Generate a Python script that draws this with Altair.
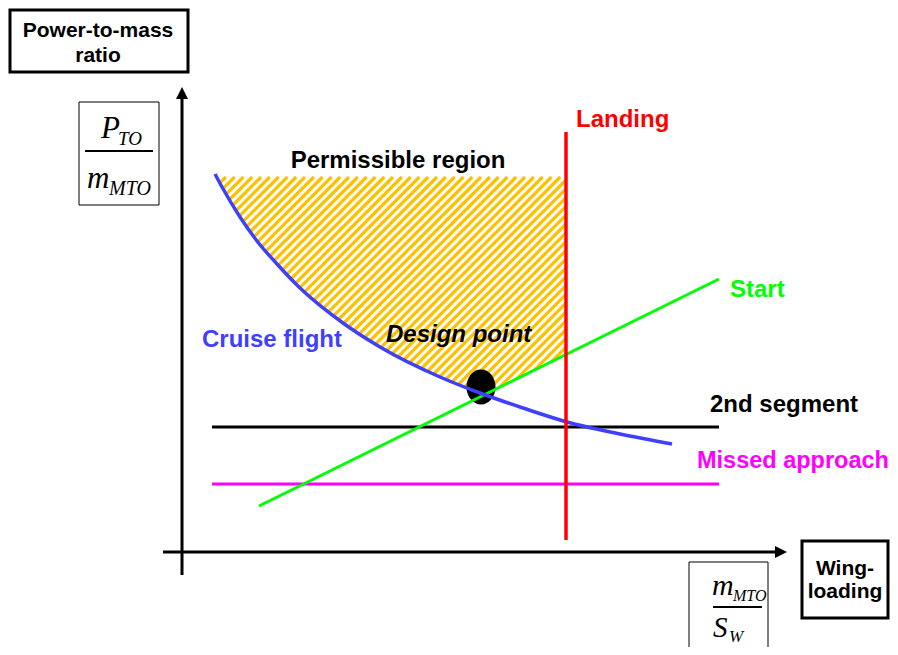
import altair as alt
import numpy as np
import pandas as pd

# ---------------- data (diagram units: origin at the axes crossing, y up) ----------------
cruise_x = [33, 40, 58, 75, 95, 118, 161, 198, 258, 298, 341, 385, 438, 490]
cruise_y = [378, 365, 335, 311, 288, 264, 229, 205, 175, 159, 144, 130, 118, 108]

start_x = [77, 537]
start_y = [46, 273]

segment2_x = [30, 537]
segment2_y = [125, 125]

missed_x = [30, 537]
missed_y = [68, 68]

landing_x = [384, 384]
landing_y = [12, 420]

design_x = [299]
design_y = [165]

region_x = [34, 384]      # permissible region (hatched) bounding box
region_y = [152, 375]

label_text = ["Landing", "Permissible region", "Start", "Cruise flight", "Design point",
              "2nd segment", "Missed approach"]
label_x = [394, 216, 548, 20, 204, 528, 515]
label_y = [425, 384, 255, 205, 210, 140, 84]

box_text_a = ["Power-to-mass", "ratio"]
box_text_b = ["Wing-", "loading"]

# ---------------- styling ----------------
SANS = "Liberation Sans, Arial, Helvetica, sans-serif"
SERIF = "Liberation Serif, Times New Roman, serif"
BLUE = "#3f3fff"
GREEN = "#00ff00"
RED = "#ff0000"
MAGENTA = "#ff00ff"
ORANGE = "#ffc000"

xs = alt.Scale(domain=[-174, 708], nice=False, zero=False)
ys = alt.Scale(domain=[-95, 544], nice=False, zero=False)


def X(f="x"):
    return alt.X(f"{f}:Q", scale=xs, axis=None)


def Y(f="y"):
    return alt.Y(f"{f}:Q", scale=ys, axis=None)


def seg_chart(df, color, width):
    return alt.Chart(df).mark_rule(color=color, strokeWidth=width).encode(
        x=X("x"), x2="x2:Q", y=Y("y"), y2="y2:Q")


def line_chart(xv, yv, color, width, interp="linear"):
    df = pd.DataFrame({"x": xv, "y": yv})
    return alt.Chart(df).mark_line(color=color, strokeWidth=width, interpolate=interp).encode(
        x=X("x"), y=Y("y"), order="x:Q")


def text_chart(xv, yv, texts, color="black", size=24, align="left", weight="bold",
               style="normal", font=SANS):
    df = pd.DataFrame({"x": xv, "y": yv, "t": texts})
    return alt.Chart(df).mark_text(
        align=align, baseline="alphabetic", font=font, fontSize=size,
        fontWeight=weight, fontStyle=style, color=color
    ).encode(x=X("x"), y=Y("y"), text="t:N")


def rect_chart(x1, x2, y1, y2, width):
    df = pd.DataFrame({"x": [x1], "x2": [x2], "y": [y1], "y2": [y2]})
    return alt.Chart(df).mark_rect(fill="white", stroke="black", strokeWidth=width).encode(
        x=X("x"), x2="x2:Q", y=Y("y"), y2="y2:Q")


# ---------------- hatch pattern of the permissible region ----------------
x0, x1 = region_x
y0, y1 = region_y
rows = []
for c in np.arange(y0 - x1, y1 - x0, 8.8):
    xa = max(x0, y0 - c)
    xb = min(x1, y1 - c)
    if xb > xa:
        rows.append({"x": xa, "y": xa + c, "x2": xb, "y2": xb + c})
hatch = seg_chart(pd.DataFrame(rows), ORANGE, 3.2)

# white masks below the cruise curve and below the start line
mask_base = 140
mask1 = alt.Chart(pd.DataFrame({"x": cruise_x, "y": cruise_y, "b": mask_base})).mark_area(
    color="white", interpolate="monotone", opacity=1).encode(x=X("x"), y=Y("y"), y2="b:Q")
mask2 = alt.Chart(pd.DataFrame({"x": start_x, "y": start_y, "b": mask_base})).mark_area(
    color="white", opacity=1).encode(x=X("x"), y=Y("y"), y2="b:Q")

# ---------------- constraint lines ----------------
design = alt.Chart(pd.DataFrame({"x": design_x, "y": design_y})).mark_point(
    shape="M0,-1A0.83,1 0 1,1 0,1A0.83,1 0 1,1 0,-1Z", size=1225, filled=True,
    color="black", opacity=1, strokeWidth=0).encode(x=X("x"), y=Y("y"))

seg2 = line_chart(segment2_x, segment2_y, "black", 3)
missed = line_chart(missed_x, missed_y, MAGENTA, 3)
start = line_chart(start_x, start_y, GREEN, 3)
cruise = line_chart(cruise_x, cruise_y, BLUE, 3.5, "monotone")
landing = line_chart(landing_x, landing_y, RED, 3.5)

# ---------------- axes with arrows ----------------
axes = seg_chart(pd.DataFrame({"x": [0, -19], "x2": [0, 593], "y": [-23, 0], "y2": [454, 0]}),
                 "black", 3)
arrow_up = alt.Chart(pd.DataFrame({"x": [0], "y": [459]})).mark_point(
    shape="M0,-1L1,1L-1,1Z", size=144, filled=True, color="black", opacity=1, strokeWidth=0
).encode(x=X("x"), y=Y("y"))
arrow_right = alt.Chart(pd.DataFrame({"x": [599], "y": [0]})).mark_point(
    shape="M1,0L-1,-1L-1,1Z", size=144, filled=True, color="black", opacity=1, strokeWidth=0
).encode(x=X("x"), y=Y("y"))

# ---------------- labels ----------------
lbl_colors = [RED, "black", GREEN, BLUE, "black", "black", MAGENTA]
labels = []
for t, lx, ly, col in zip(label_text, label_x, label_y, lbl_colors):
    if t == "Permissible region":
        labels.append(text_chart([lx], [ly], [t], color=col, align="center"))
    elif t == "Design point":
        labels.append(text_chart([lx], [ly], [t], color=col, style="italic"))
    elif t == "Missed approach":
        labels.append(text_chart([lx], [ly], [t], color=col, size=23.5))
    else:
        labels.append(text_chart([lx], [ly], [t], color=col))

# boxes with axis names
box_a = rect_chart(-172, 6, 542, 480, 3)
box_a_txt = text_chart([-84, -84], [515, 490], box_text_a, size=21, align="center")
box_b = rect_chart(620, 706, 11, -66, 3)
box_b_txt = text_chart([663, 663], [-23, -46], box_text_b, size=21, align="center")

# fraction boxes
frac_a = rect_chart(-103, -23, 450, 347, 1)
frac_a_bar = seg_chart(pd.DataFrame({"x": [-97], "x2": [-29], "y": [401], "y2": [401]}), "black", 2)
frac_a_txt = [
    text_chart([-81], [414], ["P"], size=31, weight="normal", style="italic", font=SERIF),
    text_chart([-64], [407], ["TO"], size=19, weight="normal", style="italic", font=SERIF),
    text_chart([-95], [364], ["m"], size=31, weight="normal", style="italic", font=SERIF),
    text_chart([-73], [357], ["MTO"], size=20, weight="normal", style="italic", font=SERIF),
]
frac_b = rect_chart(507, 586, -10, -140, 1)
frac_b_bar = seg_chart(pd.DataFrame({"x": [531], "x2": [580], "y": [-55], "y2": [-55]}), "black", 2)
frac_b_txt = [
    text_chart([530], [-43], ["m"], size=30, weight="normal", style="italic", font=SERIF),
    text_chart([551], [-49], ["MTO"], size=16, weight="normal", style="italic", font=SERIF),
    text_chart([531], [-85], ["S"], size=29, weight="normal", style="italic", font=SERIF),
    text_chart([547], [-90], ["W"], size=17, weight="normal", style="italic", font=SERIF),
]

chart = alt.layer(
    hatch, mask1, mask2, design, seg2, missed, start, cruise, landing,
    axes, arrow_up, arrow_right,
    *labels,
    box_a, box_a_txt, box_b, box_b_txt,
    frac_a, frac_a_bar, *frac_a_txt,
    frac_b, frac_b_bar, *frac_b_txt,
).properties(
    width=882, height=639, padding=0,
    autosize=alt.AutoSizeParams(type="none"),
).configure_view(stroke=None)

chart.save("out.html", embed_options={"renderer": "svg", "actions": False})
